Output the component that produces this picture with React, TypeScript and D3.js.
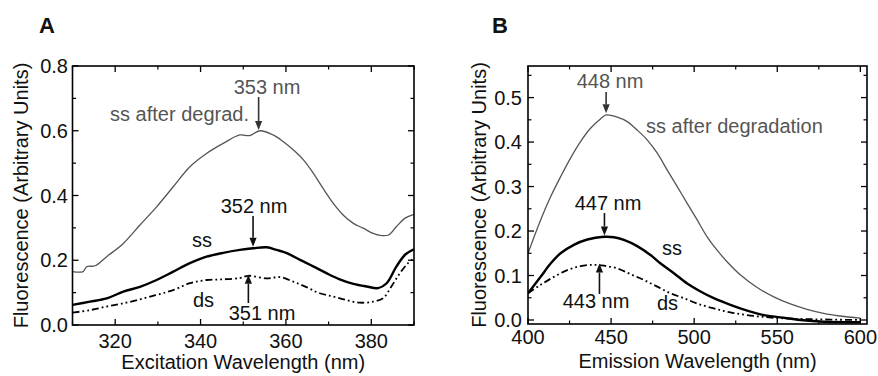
import React from "react";
import * as d3 from "d3";

// ---------- Panel A data (Excitation) ----------
const aDegradX = [310, 312.5, 313.3, 315.3, 318, 321.9, 325.8, 329.7, 333.6, 337.5, 341.4, 345.3, 349.2, 351.5, 353.9, 357, 359.4, 361.7, 364.1, 366.4, 368.7, 371.1, 373.4, 375.8, 378.1, 380.4, 381.6, 384, 385.9, 387.9, 390];
const aDegradY = [0.165, 0.165, 0.18, 0.183, 0.211, 0.252, 0.309, 0.365, 0.427, 0.489, 0.53, 0.561, 0.587, 0.585, 0.6, 0.587, 0.566, 0.541, 0.51, 0.469, 0.422, 0.376, 0.34, 0.314, 0.299, 0.283, 0.278, 0.278, 0.304, 0.33, 0.342];

const aSsX = [310, 314.1, 318, 321.9, 325.8, 329.7, 333.6, 337.5, 341.4, 345.3, 349.2, 352.3, 355.5, 357.8, 360.2, 363.3, 366.4, 369.5, 372.6, 375.8, 378.9, 381.6, 383.6, 385.9, 387.9, 390];
const aSsY = [0.062, 0.072, 0.082, 0.103, 0.118, 0.139, 0.165, 0.191, 0.211, 0.223, 0.232, 0.237, 0.24, 0.232, 0.222, 0.201, 0.181, 0.16, 0.141, 0.127, 0.119, 0.114, 0.129, 0.181, 0.217, 0.234];

const aDsX = [310, 314.1, 318, 321.9, 325.8, 329.7, 333.6, 337.5, 341.4, 345.3, 349.2, 351.2, 355.5, 358.6, 361.7, 364.8, 367.9, 371.1, 374.2, 377.3, 380.4, 382.8, 384.7, 386.7, 388.6, 390];
const aDsY = [0.038, 0.046, 0.057, 0.067, 0.079, 0.093, 0.108, 0.129, 0.139, 0.141, 0.145, 0.152, 0.144, 0.148, 0.134, 0.117, 0.098, 0.088, 0.077, 0.069, 0.072, 0.083, 0.119, 0.16, 0.191, 0.206];

const aXTicks = [320, 340, 360, 380];
const aXMinor = [310, 330, 350, 370, 390];
const aYTicks = [0.0, 0.2, 0.4, 0.6, 0.8];
const aYMinor = [0.1, 0.3, 0.5, 0.7];

// ---------- Panel B data (Emission) ----------
const bDegradX = [400, 407.6, 413.6, 419.6, 425.6, 431.6, 437.6, 443.6, 447, 453.7, 459.7, 465.7, 471.7, 477.8, 483.8, 489.8, 495.8, 501.8, 507.8, 513.8, 519.8, 527.9, 537.9, 547.9, 557.9, 567.9, 577.9, 587.9, 600];
const bDegradY = [0.15, 0.225, 0.277, 0.322, 0.364, 0.401, 0.431, 0.452, 0.461, 0.456, 0.446, 0.427, 0.405, 0.375, 0.337, 0.3, 0.262, 0.225, 0.187, 0.157, 0.131, 0.101, 0.073, 0.052, 0.036, 0.024, 0.015, 0.009, 0.004];

const bSsX = [400, 407.6, 413.6, 419.6, 427.6, 435.7, 445.7, 451.7, 457.7, 465.7, 473.7, 479.8, 487.8, 495.8, 503.8, 511.8, 521.8, 531.9, 541.9, 551.9, 563.9, 577.9, 600];
const bSsY = [0.06, 0.097, 0.127, 0.15, 0.169, 0.181, 0.187, 0.186, 0.18, 0.166, 0.146, 0.127, 0.105, 0.082, 0.064, 0.049, 0.034, 0.021, 0.011, 0.006, 0.0, -0.004, -0.005];

const bDsX = [400, 407.6, 415.6, 423.6, 431.6, 439.6, 445.7, 453.7, 461.7, 469.7, 477.8, 485.8, 493.8, 501.8, 511.8, 521.8, 533.9, 547.9, 567.9, 600];
const bDsY = [0.06, 0.079, 0.097, 0.112, 0.121, 0.124, 0.122, 0.116, 0.103, 0.09, 0.075, 0.06, 0.049, 0.037, 0.026, 0.017, 0.01, 0.005, 0.002, 0.0];

const bXTicks = [400, 450, 500, 550, 600];
const bXMinor = [425, 475, 525, 575];
const bYTicks = [0.0, 0.1, 0.2, 0.3, 0.4, 0.5];
const bYMinor = [0.05, 0.15, 0.25, 0.35, 0.45, 0.55];

const FONT = "'Liberation Sans', Arial, Helvetica, sans-serif";
const GREY = "#555";

type Pt = [number, number];
const zip = (xs: number[], ys: number[]): Pt[] => xs.map((x, i) => [x, ys[i]]);

function Arrow({ x, y1, y2, color }: { x: number; y1: number; y2: number; color: string }) {
  // arrow from y1 to y2 (tip at y2)
  const dir = y2 > y1 ? 1 : -1;
  const h = 9;
  const w = 3.6;
  return (
    <g>
      <line x1={x} y1={y1} x2={x} y2={y2 - dir * h} stroke={color} strokeWidth={1.6} />
      <path d={`M${x},${y2} L${x - w},${y2 - dir * h} L${x + w},${y2 - dir * h} Z`} fill={color} />
    </g>
  );
}

function Panel(props: {
  x: d3.ScaleLinear<number, number>;
  y: d3.ScaleLinear<number, number>;
  xTicks: number[];
  xMinor: number[];
  yTicks: number[];
  yMinor: number[];
  xFmt: (v: number) => string;
  yFmt: (v: number) => string;
  xLabelY: number;
  xTitle: string;
  xTitleY: number;
  yLabelX: number;
  yTitleX: number;
  series: { pts: Pt[]; color: string; width: number; dash?: string }[];
  children?: React.ReactNode;
}) {
  const { x, y } = props;
  const [x0, x1] = x.range();
  const [y0, y1] = y.range(); // y0 bottom, y1 top
  const line = d3
    .line<Pt>()
    .x((d) => x(d[0]))
    .y((d) => y(d[1]))
    .curve(d3.curveCatmullRom.alpha(0.5));
  const maj = 6;
  const mn = 3.5;
  const clipId = `clip${Math.round(x0)}`;
  return (
    <g>
      <defs>
        <clipPath id={clipId}>
          <rect x={x0} y={y1} width={x1 - x0} height={y0 - y1} />
        </clipPath>
      </defs>
      <g clipPath={`url(#${clipId})`}>
        {props.series.map((s, i) => (
          <path
            key={i}
            d={line(s.pts) || ""}
            fill="none"
            stroke={s.color}
            strokeWidth={s.width}
            strokeDasharray={s.dash}
            strokeLinejoin="round"
          />
        ))}
      </g>
      {/* ticks */}
      {props.xTicks.map((t) => (
        <g key={"xt" + t}>
          <line x1={x(t)} x2={x(t)} y1={y0} y2={y0 - maj} stroke="#000" strokeWidth={1.3} />
          <line x1={x(t)} x2={x(t)} y1={y1} y2={y1 + maj} stroke="#000" strokeWidth={1.3} />
          <text x={x(t)} y={props.xLabelY} textAnchor="middle" fontSize={20} fontFamily={FONT} fill="#111">
            {props.xFmt(t)}
          </text>
        </g>
      ))}
      {props.xMinor.map((t) => (
        <g key={"xm" + t}>
          <line x1={x(t)} x2={x(t)} y1={y0} y2={y0 - mn} stroke="#000" strokeWidth={1.2} />
          <line x1={x(t)} x2={x(t)} y1={y1} y2={y1 + mn} stroke="#000" strokeWidth={1.2} />
        </g>
      ))}
      {props.yTicks.map((t) => (
        <g key={"yt" + t}>
          <line x1={x0} x2={x0 + maj} y1={y(t)} y2={y(t)} stroke="#000" strokeWidth={1.3} />
          <line x1={x1} x2={x1 - maj} y1={y(t)} y2={y(t)} stroke="#000" strokeWidth={1.3} />
          <text x={props.yLabelX} y={y(t)} dy="0.36em" textAnchor="end" fontSize={20} fontFamily={FONT} fill="#111">
            {props.yFmt(t)}
          </text>
        </g>
      ))}
      {props.yMinor.map((t) => (
        <g key={"ym" + t}>
          <line x1={x0} x2={x0 + mn} y1={y(t)} y2={y(t)} stroke="#000" strokeWidth={1.2} />
          <line x1={x1} x2={x1 - mn} y1={y(t)} y2={y(t)} stroke="#000" strokeWidth={1.2} />
        </g>
      ))}
      <rect x={x0} y={y1} width={x1 - x0} height={y0 - y1} fill="none" stroke="#000" strokeWidth={1.6} />
      <text x={(x0 + x1) / 2} y={props.xTitleY} textAnchor="middle" fontSize={20} fontFamily={FONT} fill="#111">
        {props.xTitle}
      </text>
      <text
        transform={`translate(${props.yTitleX},${(y0 + y1) / 2}) rotate(-90)`}
        textAnchor="middle"
        fontSize={20}
        fontFamily={FONT}
        fill="#111"
      >
        Fluorescence (Arbitrary Units)
      </text>
      {props.children}
    </g>
  );
}

export default function App() {
  const xA = d3.scaleLinear().domain([310, 390]).range([72.5, 414]);
  const yA = d3.scaleLinear().domain([0, 0.8]).range([325, 66]);
  const xB = d3.scaleLinear().domain([400, 604]).range([528, 867]);
  const yB = d3.scaleLinear().domain([-0.009, 0.571]).range([324, 66]);
  const f1 = d3.format(".1f");
  const f0 = d3.format("d");
  const dsDash = "7,3,1.8,3,1.8,3";
  const txt = (x: number, y: number, s: string, color = "#111", anchor = "start") => (
    <text x={x} y={y} fontSize={20} fontFamily={FONT} fill={color} textAnchor={anchor as any}>
      {s}
    </text>
  );
  return (
    <svg width={878} height={376} style={{ position: "absolute", left: 0, top: 0, background: "#fff" }}>
      <rect width={878} height={376} fill="#fff" />
      <text x={39} y={33} fontSize={22} fontWeight="bold" fontFamily={FONT} fill="#111">A</text>
      <text x={492} y={33} fontSize={22} fontWeight="bold" fontFamily={FONT} fill="#111">B</text>
      <Panel
        x={xA}
        y={yA}
        xTicks={aXTicks}
        xMinor={aXMinor}
        yTicks={aYTicks}
        yMinor={aYMinor}
        xFmt={f0}
        yFmt={f1}
        xLabelY={348}
        xTitle="Excitation Wavelength (nm)"
        xTitleY={369}
        yLabelX={68}
        yTitleX={28}
        series={[
          { pts: zip(aDegradX, aDegradY), color: GREY, width: 1.3 },
          { pts: zip(aSsX, aSsY), color: "#000", width: 2.4 },
          { pts: zip(aDsX, aDsY), color: "#000", width: 1.8, dash: dsDash },
        ]}
      >
        {txt(267, 94, "353 nm", GREY, "middle")}
        <Arrow x={xA(353.6)} y1={97} y2={yA(0.602)} color="#333" />
        {txt(110, 121, "ss after degrad.", GREY)}
        {txt(254, 213, "352 nm", "#111", "middle")}
        <Arrow x={xA(352.3)} y1={216} y2={yA(0.242)} color="#111" />
        {txt(192, 247, "ss")}
        {txt(193, 307, "ds")}
        {txt(262, 320, "351 nm", "#111", "middle")}
        <Arrow x={xA(351.2)} y1={303} y2={yA(0.155)} color="#111" />
      </Panel>
      <Panel
        x={xB}
        y={yB}
        xTicks={bXTicks}
        xMinor={bXMinor}
        yTicks={bYTicks}
        yMinor={bYMinor}
        xFmt={f0}
        yFmt={f1}
        xLabelY={344}
        xTitle="Emission Wavelength (nm)"
        xTitleY={368}
        yLabelX={522}
        yTitleX={486}
        series={[
          { pts: zip(bDegradX, bDegradY), color: GREY, width: 1.3 },
          { pts: zip(bSsX, bSsY), color: "#000", width: 2.4 },
          { pts: zip(bDsX, bDsY), color: "#000", width: 1.8, dash: dsDash },
        ]}
      >
        {txt(610, 88, "448 nm", GREY, "middle")}
        <Arrow x={xB(447)} y1={92} y2={yB(0.465)} color="#333" />
        {txt(646, 133, "ss after degradation", GREY)}
        {txt(608, 210, "447 nm", "#111", "middle")}
        <Arrow x={xB(446)} y1={213} y2={yB(0.19)} color="#111" />
        {txt(662, 255, "ss")}
        {txt(596, 308, "443 nm", "#111", "middle")}
        <Arrow x={xB(443)} y1={294} y2={yB(0.127)} color="#111" />
        {txt(657, 310, "ds")}
      </Panel>
    </svg>
  );
}
